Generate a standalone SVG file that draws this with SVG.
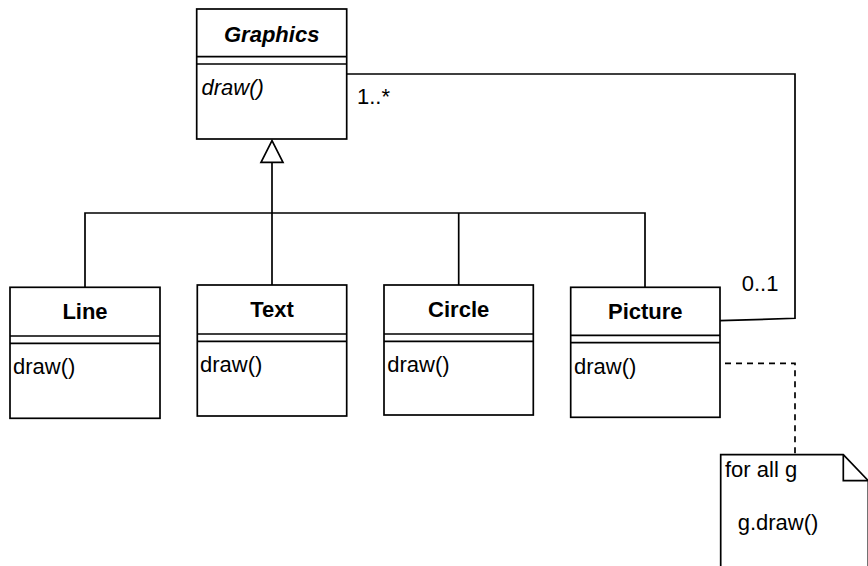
<svg xmlns="http://www.w3.org/2000/svg" width="868" height="566" viewBox="0 0 868 566">
<style>
.box{fill:#fff;stroke:#000;stroke-width:1.7}
.ln{fill:none;stroke:#000;stroke-width:1.7}
.dash{fill:none;stroke:#000;stroke-width:1.7;stroke-dasharray:6,5}
text{font-family:"Liberation Sans",Arial,sans-serif;font-size:22px;fill:#000}
.title{font-weight:bold;text-anchor:middle}
.it{font-style:italic}
</style>
<rect width="868" height="566" fill="#fff"/>
<g id="connectors">
<path class="ln" d="M85,287 V213 H645 V287"/>
<path class="ln" d="M272,162 V285"/>
<path class="ln" d="M458.7,213 V285"/>
<polygon points="272,140.7 261,162.3 283,162.3" fill="#fff" stroke="#000" stroke-width="1.7"/>
<path class="ln" d="M347,74 H795 V318.3 L720,320.7"/>
<path class="dash" d="M725,363.3 H795 V455"/>
<text x="357" y="104">1..*</text>
<text x="741.7" y="291">0..1</text>
</g>
<g id="Graphics">
<rect class="box" x="196.7" y="9" width="150" height="130"/>
<path class="ln" d="M196.7,56.7 H346.7 M196.7,64 H346.7"/>
<text class="title it" x="271.7" y="41.5">Graphics</text>
<text class="it" x="201.5" y="95">draw()</text>
</g>
<g id="Line">
<rect class="box" x="10" y="287.3" width="150" height="131"/>
<path class="ln" d="M10,336 H160 M10,343.3 H160"/>
<text class="title" x="85" y="319">Line</text>
<text x="13" y="374">draw()</text>
</g>
<g id="Text">
<rect class="box" x="197.3" y="285" width="149.4" height="131"/>
<path class="ln" d="M197.3,334 H346.7 M197.3,341.3 H346.7"/>
<text class="title" x="272" y="317">Text</text>
<text x="200" y="372.3">draw()</text>
</g>
<g id="Circle">
<rect class="box" x="384" y="285" width="149.3" height="130"/>
<path class="ln" d="M384,334 H533.3 M384,341.3 H533.3"/>
<text class="title" x="458.7" y="317">Circle</text>
<text x="387.3" y="372.3">draw()</text>
</g>
<g id="Picture">
<rect class="box" x="570.7" y="287.3" width="149.3" height="130"/>
<path class="ln" d="M570.7,335.3 H720 M570.7,342.7 H720"/>
<text class="title" x="645.3" y="319">Picture</text>
<text x="574" y="374">draw()</text>
</g>
<g id="Note">
<path class="box" d="M720.7,600 V454.7 H843.3 L868.3,480.7 V600 Z"/>
<path class="ln" d="M843.3,454.7 V480.7 H868.3"/>
<text x="725" y="476.7">for all g</text>
<text x="737.7" y="530">g.draw()</text>
</g>
</svg>
